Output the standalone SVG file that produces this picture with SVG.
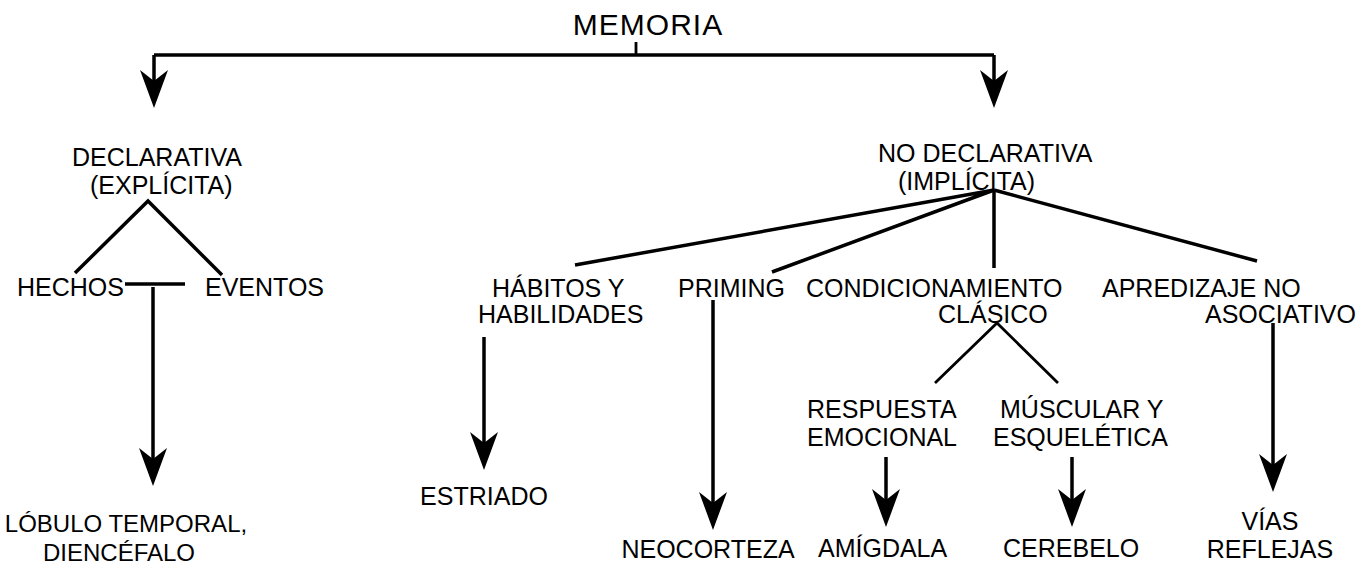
<svg xmlns="http://www.w3.org/2000/svg" width="1370" height="584" viewBox="0 0 1370 584">
<style>
  text { font-family: "Liberation Sans", Arial, sans-serif; font-size: 25px; fill: #000; }
  .c { text-anchor: middle; }
  .title { font-size: 30px; letter-spacing: 1px; }
  .ln { stroke: #000; stroke-width: 3.5; fill: none; stroke-linecap: butt; stroke-linejoin: miter; }
  .thin { stroke-width: 2.8; }
  .ar { marker-end: url(#head); }
</style>
<defs>
  <marker id="head" viewBox="-40 -15 42 30" refX="-10" refY="0" markerWidth="42" markerHeight="30" markerUnits="userSpaceOnUse" orient="auto">
    <path d="M0,0 L-38,-14 L-27,0 L-38,14 Z" fill="#000"/>
  </marker>
</defs>
<rect width="1370" height="584" fill="#fff"/>

<g id="connectors">
  <path class="ln" d="M154,55 H994"/>
  <path class="ln thin" d="M636,42 V55"/>
  <path class="ln ar" d="M154,55 V98"/>
  <path class="ln ar" d="M994,55 V98"/>
  <path class="ln" d="M75,273 L148,201 L222,275"/>
  <path class="ln" d="M125,284 H185"/>
  <path class="ln ar" d="M153,287 V476"/>
  <path class="ln" d="M575,265 L994,190 L772,272"/>
  <path class="ln" d="M994,190 V268"/>
  <path class="ln" d="M994,190 L1257,261"/>
  <path class="ln ar" d="M484,337 V460"/>
  <path class="ln ar" d="M713,300 V520"/>
  <path class="ln thin" d="M935,383 L997,323 L1058,383"/>
  <path class="ln ar" d="M886,457 V517"/>
  <path class="ln ar" d="M1072,457 V517"/>
  <path class="ln ar" d="M1273,323 V482"/>
</g>

<g id="memoria"><text x="648" y="35" class="c title">MEMORIA</text></g>
<g id="declarativa">
  <text x="72" y="166">DECLARATIVA</text>
  <text x="90" y="194">(EXPLÍCITA)</text>
</g>
<g id="hechos"><text x="17" y="296">HECHOS</text></g>
<g id="eventos"><text x="205" y="296">EVENTOS</text></g>
<g id="lobulo">
  <text x="126" y="532" class="c" style="font-size:24px">LÓBULO TEMPORAL,</text>
  <text x="119" y="561" class="c" style="font-size:24px">DIENCÉFALO</text>
</g>
<g id="no-declarativa">
  <text x="878" y="162">NO DECLARATIVA</text>
  <text x="898" y="190">(IMPLÍCITA)</text>
</g>
<g id="habitos">
  <text x="492" y="297">HÁBITOS Y</text>
  <text x="478" y="323">HABILIDADES</text>
</g>
<g id="priming"><text x="678" y="297">PRIMING</text></g>
<g id="condicionamiento">
  <text x="806" y="297">CONDICIONAMIENTO</text>
  <text x="938" y="323">CLÁSICO</text>
</g>
<g id="aprendizaje">
  <text x="1102" y="297">APREDIZAJE NO</text>
  <text x="1205" y="323">ASOCIATIVO</text>
</g>
<g id="respuesta">
  <text x="807" y="418">RESPUESTA</text>
  <text x="807" y="446">EMOCIONAL</text>
</g>
<g id="muscular">
  <text x="1000" y="418">MÚSCULAR Y</text>
  <text x="993" y="446">ESQUELÉTICA</text>
</g>
<g id="estriado"><text x="484" y="505" class="c">ESTRIADO</text></g>
<g id="neocorteza"><text x="708" y="558" class="c">NEOCORTEZA</text></g>
<g id="amigdala"><text x="818" y="557">AMÍGDALA</text></g>
<g id="cerebelo"><text x="1003" y="557">CEREBELO</text></g>
<g id="vias">
  <text x="1270" y="530" class="c">VÍAS</text>
  <text x="1270" y="558" class="c">REFLEJAS</text>
</g>
</svg>
